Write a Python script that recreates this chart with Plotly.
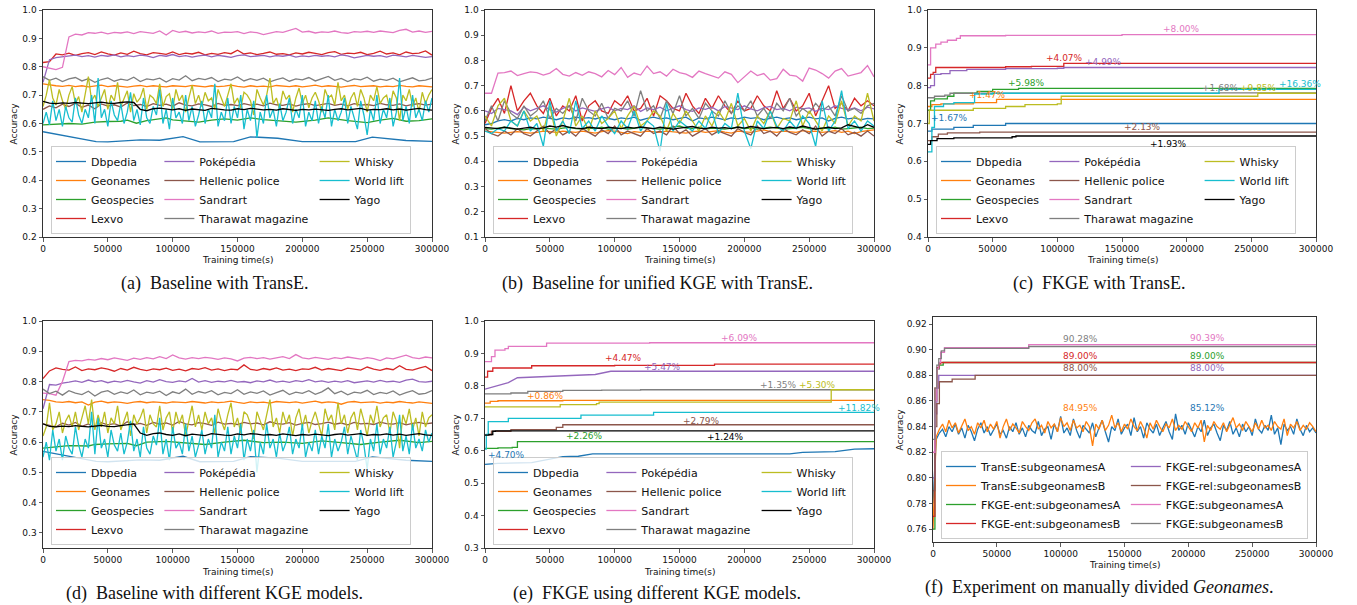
import numpy as np
import plotly.graph_objects as go

W, H = 1357, 605
SANS = "DejaVu Sans"
SERIF = "Liberation Serif"

DATASETS = ["Dbpedia", "Geonames", "Geospecies", "Lexvo", "Poképédia", "Hellenic police",
            "Sandrart", "Tharawat magazine", "Whisky", "World lift", "Yago"]
COLORS = ["#1f77b4", "#ff7f0e", "#2ca02c", "#d62728", "#9467bd", "#8c564b",
          "#e377c2", "#7f7f7f", "#bcbd22", "#17becf", "#000000"]
LEGEND_COLUMN = [1, 1, 1, 1, 2, 2, 2, 2, 3, 3, 3]
X_TICKS = [0, 50000, 100000, 150000, 200000, 250000, 300000]

# ---------------- (a) Baseline with TransE ----------------
A_DBPEDIA_X = [0, 41000, 50000, 75000, 90000, 108000, 121000, 147000, 160000, 181000, 200000, 241000, 254000, 280000, 300000]
A_DBPEDIA_Y = [0.571, 0.536, 0.535, 0.542, 0.541, 0.554, 0.535, 0.536, 0.553, 0.548, 0.536, 0.536, 0.552, 0.540, 0.537]
A_GEOSPECIES_X = [0, 10000, 20000, 30000, 40000, 50000, 60000, 65000, 72000, 80000, 95000, 100000, 120000, 130000, 140000, 150000, 160000, 170000, 185000, 195000, 210000, 220000, 235000, 250000, 260000, 270000, 280000, 290000, 300000]
A_GEOSPECIES_Y = [0.595, 0.597, 0.600, 0.598, 0.605, 0.607, 0.608, 0.612, 0.601, 0.610, 0.620, 0.613, 0.605, 0.612, 0.616, 0.612, 0.620, 0.614, 0.610, 0.605, 0.612, 0.620, 0.610, 0.603, 0.612, 0.618, 0.608, 0.610, 0.616]
A_GEONAMES = [0.740, 0.736, 0.733, 0.731, 0.734, 0.730, 0.733, 0.729, 0.732, 0.735, 0.730, 0.733, 0.731, 0.728, 0.732, 0.734, 0.730, 0.733, 0.731, 0.729, 0.733, 0.732, 0.730, 0.734, 0.731, 0.729, 0.733, 0.730, 0.732, 0.735, 0.731, 0.728, 0.733, 0.730, 0.732, 0.729, 0.734, 0.731, 0.730, 0.733, 0.729, 0.732, 0.735, 0.730, 0.733, 0.731, 0.728, 0.732, 0.734, 0.730, 0.731, 0.733, 0.729, 0.732, 0.730, 0.734, 0.731, 0.729, 0.733, 0.730, 0.729]
A_LEXVO = [0.815, 0.818, 0.845, 0.842, 0.848, 0.840, 0.846, 0.850, 0.843, 0.852, 0.845, 0.841, 0.849, 0.844, 0.855, 0.846, 0.842, 0.850, 0.847, 0.844, 0.852, 0.843, 0.848, 0.845, 0.851, 0.842, 0.847, 0.844, 0.850, 0.846, 0.858, 0.845, 0.849, 0.843, 0.847, 0.852, 0.844, 0.846, 0.842, 0.849, 0.845, 0.851, 0.847, 0.843, 0.850, 0.853, 0.844, 0.848, 0.846, 0.851, 0.843, 0.847, 0.855, 0.845, 0.849, 0.842, 0.852, 0.846, 0.848, 0.856, 0.841]
A_POKEPEDIA = [0.745, 0.825, 0.832, 0.835, 0.838, 0.841, 0.836, 0.839, 0.834, 0.840, 0.837, 0.842, 0.835, 0.839, 0.836, 0.841, 0.838, 0.832, 0.840, 0.837, 0.843, 0.836, 0.839, 0.834, 0.838, 0.841, 0.835, 0.840, 0.837, 0.833, 0.839, 0.842, 0.836, 0.838, 0.840, 0.835, 0.839, 0.837, 0.841, 0.834, 0.838, 0.836, 0.840, 0.837, 0.839, 0.835, 0.842, 0.838, 0.831, 0.836, 0.840, 0.837, 0.839, 0.834, 0.841, 0.838, 0.835, 0.840, 0.837, 0.833, 0.836]
A_HELLENIC = [0.650, 0.662, 0.655, 0.668, 0.660, 0.671, 0.657, 0.665, 0.652, 0.669, 0.661, 0.666, 0.658, 0.672, 0.663, 0.667, 0.660, 0.670, 0.664, 0.668, 0.661, 0.673, 0.665, 0.662, 0.669, 0.666, 0.660, 0.671, 0.664, 0.667, 0.663, 0.670, 0.665, 0.668, 0.662, 0.672, 0.666, 0.664, 0.669, 0.661, 0.667, 0.670, 0.663, 0.666, 0.671, 0.664, 0.668, 0.662, 0.670, 0.665, 0.667, 0.663, 0.671, 0.666, 0.664, 0.669, 0.662, 0.667, 0.670, 0.665, 0.668]
A_SANDRART = [0.800, 0.796, 0.790, 0.798, 0.905, 0.915, 0.912, 0.920, 0.918, 0.922, 0.916, 0.921, 0.919, 0.923, 0.917, 0.924, 0.920, 0.918, 0.926, 0.912, 0.928, 0.921, 0.925, 0.919, 0.923, 0.920, 0.926, 0.918, 0.922, 0.921, 0.924, 0.917, 0.923, 0.920, 0.913, 0.919, 0.924, 0.921, 0.927, 0.935, 0.922, 0.925, 0.919, 0.923, 0.921, 0.926, 0.920, 0.918, 0.924, 0.922, 0.925, 0.921, 0.926, 0.923, 0.920, 0.928, 0.932, 0.922, 0.926, 0.921, 0.925]
A_THARAWAT = [0.765, 0.752, 0.760, 0.748, 0.757, 0.762, 0.750, 0.758, 0.745, 0.755, 0.761, 0.749, 0.756, 0.752, 0.763, 0.748, 0.757, 0.754, 0.760, 0.746, 0.758, 0.753, 0.768, 0.751, 0.759, 0.755, 0.762, 0.748, 0.756, 0.753, 0.764, 0.750, 0.758, 0.752, 0.760, 0.747, 0.755, 0.761, 0.749, 0.757, 0.754, 0.762, 0.750, 0.758, 0.766, 0.752, 0.759, 0.748, 0.757, 0.754, 0.763, 0.749, 0.756, 0.752, 0.760, 0.747, 0.755, 0.761, 0.750, 0.753, 0.760]
A_WHISKY = [0.660, 0.700, 0.755, 0.690, 0.665, 0.720, 0.680, 0.650, 0.700, 0.730, 0.670, 0.695, 0.640, 0.710, 0.765, 0.680, 0.700, 0.660, 0.690, 0.720, 0.650, 0.700, 0.680, 0.745, 0.660, 0.690, 0.715, 0.640, 0.705, 0.675, 0.690, 0.725, 0.650, 0.700, 0.690, 0.670, 0.740, 0.660, 0.695, 0.705, 0.650, 0.720, 0.680, 0.700, 0.640, 0.690, 0.735, 0.670, 0.700, 0.660, 0.710, 0.680, 0.690, 0.650, 0.720, 0.690, 0.660, 0.700, 0.740, 0.670, 0.690, 0.655, 0.710, 0.700, 0.680, 0.630, 0.720, 0.690, 0.665, 0.700, 0.760, 0.670, 0.690, 0.650, 0.715, 0.685, 0.700, 0.640, 0.690, 0.725, 0.670, 0.700, 0.655, 0.690, 0.710, 0.680, 0.640, 0.720, 0.690, 0.700, 0.665, 0.745, 0.680, 0.700, 0.650, 0.690, 0.710, 0.660, 0.720, 0.690, 0.640, 0.700, 0.680, 0.730, 0.670, 0.690, 0.700, 0.650, 0.715, 0.690, 0.610, 0.700, 0.680, 0.720, 0.660, 0.690, 0.640, 0.710, 0.670, 0.700, 0.720]
A_WORLDLIFT = [0.600, 0.640, 0.595, 0.680, 0.610, 0.650, 0.590, 0.660, 0.620, 0.605, 0.690, 0.630, 0.600, 0.650, 0.620, 0.700, 0.600, 0.760, 0.620, 0.650, 0.590, 0.680, 0.630, 0.610, 0.670, 0.600, 0.640, 0.710, 0.610, 0.650, 0.595, 0.690, 0.620, 0.600, 0.660, 0.630, 0.720, 0.600, 0.650, 0.580, 0.690, 0.620, 0.640, 0.600, 0.700, 0.610, 0.660, 0.590, 0.630, 0.680, 0.600, 0.650, 0.620, 0.740, 0.590, 0.640, 0.610, 0.690, 0.600, 0.660, 0.620, 0.700, 0.580, 0.650, 0.610, 0.680, 0.550, 0.640, 0.600, 0.700, 0.620, 0.650, 0.590, 0.670, 0.610, 0.640, 0.690, 0.600, 0.650, 0.620, 0.700, 0.590, 0.640, 0.610, 0.680, 0.600, 0.660, 0.620, 0.700, 0.590, 0.650, 0.610, 0.640, 0.690, 0.600, 0.660, 0.620, 0.580, 0.680, 0.630, 0.560, 0.650, 0.610, 0.700, 0.600, 0.650, 0.620, 0.690, 0.590, 0.640, 0.760, 0.610, 0.660, 0.600, 0.700, 0.620, 0.650, 0.610, 0.680, 0.640, 0.690]
A_YAGO = [0.678, 0.672, 0.670, 0.673, 0.671, 0.674, 0.672, 0.670, 0.673, 0.675, 0.672, 0.671, 0.674, 0.676, 0.674, 0.650, 0.645, 0.652, 0.654, 0.650, 0.648, 0.652, 0.646, 0.651, 0.649, 0.646, 0.653, 0.650, 0.648, 0.647, 0.652, 0.649, 0.653, 0.651, 0.648, 0.650, 0.647, 0.652, 0.649, 0.646, 0.650, 0.648, 0.651, 0.649, 0.646, 0.650, 0.652, 0.648, 0.651, 0.653, 0.647, 0.650, 0.649, 0.652, 0.648, 0.651, 0.647, 0.650, 0.653, 0.649, 0.647]

# ---------------- (b) Baseline for unified KGE with TransE ----------------
B_DBPEDIA = [0.545, 0.550, 0.560, 0.565, 0.560, 0.570, 0.565, 0.572, 0.568, 0.575, 0.570, 0.565, 0.572, 0.568, 0.575, 0.570, 0.573, 0.568, 0.575, 0.570, 0.565, 0.572, 0.568, 0.575, 0.563, 0.570, 0.575, 0.568, 0.572, 0.565, 0.570, 0.575, 0.560, 0.572, 0.568, 0.575, 0.570, 0.565, 0.572, 0.568, 0.575, 0.570, 0.573, 0.565, 0.570, 0.575, 0.568, 0.572, 0.565, 0.570, 0.575, 0.568, 0.572, 0.560, 0.570, 0.575, 0.568, 0.572, 0.565, 0.570, 0.568]
B_GEONAMES = [0.520, 0.518, 0.515, 0.512, 0.515, 0.518, 0.515, 0.512, 0.515, 0.520, 0.518, 0.515, 0.520, 0.518, 0.515, 0.520, 0.516, 0.512, 0.518, 0.522, 0.520, 0.515, 0.510, 0.518, 0.515, 0.520, 0.518, 0.515, 0.520, 0.517, 0.515, 0.512, 0.518, 0.520, 0.515, 0.518, 0.522, 0.516, 0.512, 0.520, 0.518, 0.515, 0.520, 0.525, 0.518, 0.515, 0.520, 0.518, 0.515, 0.522, 0.518, 0.520, 0.515, 0.518, 0.522, 0.515, 0.520, 0.510, 0.518, 0.522, 0.525]
B_GEOSPECIES = [0.530, 0.528, 0.532, 0.535, 0.530, 0.528, 0.525, 0.530, 0.528, 0.532, 0.530, 0.528, 0.532, 0.535, 0.530, 0.528, 0.532, 0.530, 0.535, 0.528, 0.530, 0.532, 0.528, 0.530, 0.535, 0.532, 0.530, 0.528, 0.532, 0.535, 0.540, 0.532, 0.530, 0.535, 0.528, 0.532, 0.530, 0.528, 0.532, 0.535, 0.530, 0.532, 0.528, 0.530, 0.535, 0.532, 0.528, 0.530, 0.532, 0.535, 0.530, 0.528, 0.532, 0.530, 0.535, 0.528, 0.530, 0.532, 0.535, 0.530, 0.532]
B_LEXVO = [0.550, 0.610, 0.650, 0.590, 0.700, 0.600, 0.640, 0.670, 0.620, 0.590, 0.650, 0.580, 0.620, 0.600, 0.660, 0.560, 0.620, 0.640, 0.600, 0.590, 0.640, 0.620, 0.660, 0.600, 0.610, 0.650, 0.580, 0.660, 0.640, 0.610, 0.600, 0.670, 0.620, 0.590, 0.650, 0.610, 0.660, 0.620, 0.590, 0.640, 0.600, 0.610, 0.660, 0.620, 0.600, 0.680, 0.610, 0.650, 0.600, 0.620, 0.670, 0.580, 0.640, 0.700, 0.610, 0.630, 0.600, 0.650, 0.620, 0.640, 0.620]
B_POKEPEDIA = [0.600, 0.590, 0.610, 0.605, 0.600, 0.585, 0.615, 0.600, 0.610, 0.620, 0.605, 0.595, 0.610, 0.620, 0.600, 0.612, 0.605, 0.598, 0.608, 0.615, 0.600, 0.610, 0.605, 0.620, 0.598, 0.612, 0.605, 0.615, 0.600, 0.610, 0.620, 0.605, 0.598, 0.612, 0.606, 0.615, 0.600, 0.618, 0.610, 0.605, 0.620, 0.608, 0.600, 0.612, 0.618, 0.605, 0.610, 0.600, 0.615, 0.608, 0.612, 0.598, 0.610, 0.605, 0.620, 0.610, 0.605, 0.612, 0.600, 0.615, 0.608]
B_HELLENIC = [0.530, 0.510, 0.500, 0.520, 0.505, 0.530, 0.510, 0.500, 0.520, 0.540, 0.510, 0.530, 0.505, 0.520, 0.500, 0.530, 0.515, 0.500, 0.525, 0.510, 0.540, 0.505, 0.520, 0.510, 0.500, 0.530, 0.510, 0.520, 0.505, 0.540, 0.510, 0.525, 0.500, 0.515, 0.530, 0.505, 0.520, 0.510, 0.500, 0.530, 0.515, 0.505, 0.540, 0.510, 0.520, 0.500, 0.530, 0.515, 0.505, 0.525, 0.510, 0.540, 0.500, 0.520, 0.510, 0.530, 0.505, 0.515, 0.500, 0.520, 0.500]
B_SANDRART = [0.670, 0.670, 0.750, 0.752, 0.758, 0.740, 0.748, 0.755, 0.752, 0.742, 0.750, 0.768, 0.745, 0.738, 0.752, 0.741, 0.755, 0.748, 0.735, 0.760, 0.744, 0.772, 0.733, 0.750, 0.742, 0.778, 0.748, 0.755, 0.738, 0.765, 0.752, 0.746, 0.733, 0.758, 0.748, 0.740, 0.730, 0.755, 0.745, 0.712, 0.735, 0.758, 0.740, 0.748, 0.722, 0.728, 0.765, 0.742, 0.738, 0.718, 0.770, 0.762, 0.748, 0.730, 0.758, 0.768, 0.738, 0.745, 0.752, 0.780, 0.735]
B_THARAWAT = [0.560, 0.620, 0.560, 0.640, 0.590, 0.570, 0.620, 0.580, 0.600, 0.640, 0.570, 0.610, 0.590, 0.620, 0.560, 0.650, 0.600, 0.580, 0.630, 0.570, 0.610, 0.600, 0.640, 0.580, 0.680, 0.600, 0.620, 0.570, 0.640, 0.590, 0.660, 0.580, 0.610, 0.570, 0.630, 0.600, 0.580, 0.640, 0.590, 0.620, 0.600, 0.640, 0.580, 0.610, 0.570, 0.630, 0.600, 0.650, 0.580, 0.610, 0.590, 0.630, 0.600, 0.620, 0.580, 0.660, 0.600, 0.610, 0.590, 0.620, 0.630]
B_WHISKY = [0.580, 0.540, 0.620, 0.650, 0.560, 0.540, 0.600, 0.560, 0.580, 0.520, 0.620, 0.500, 0.560, 0.650, 0.540, 0.580, 0.520, 0.600, 0.550, 0.570, 0.600, 0.530, 0.580, 0.620, 0.540, 0.560, 0.600, 0.580, 0.520, 0.590, 0.550, 0.600, 0.560, 0.520, 0.580, 0.540, 0.600, 0.560, 0.630, 0.540, 0.570, 0.520, 0.580, 0.550, 0.600, 0.530, 0.570, 0.560, 0.640, 0.540, 0.600, 0.560, 0.520, 0.580, 0.550, 0.640, 0.540, 0.580, 0.560, 0.670, 0.560]
B_WORLDLIFT = [0.520, 0.510, 0.530, 0.520, 0.560, 0.540, 0.600, 0.520, 0.550, 0.460, 0.640, 0.520, 0.560, 0.510, 0.640, 0.530, 0.560, 0.520, 0.580, 0.540, 0.510, 0.560, 0.530, 0.600, 0.520, 0.560, 0.540, 0.440, 0.630, 0.520, 0.560, 0.540, 0.520, 0.560, 0.530, 0.600, 0.510, 0.550, 0.530, 0.670, 0.520, 0.450, 0.560, 0.530, 0.600, 0.540, 0.520, 0.560, 0.530, 0.580, 0.550, 0.460, 0.640, 0.520, 0.560, 0.680, 0.530, 0.560, 0.520, 0.560, 0.540]
B_YAGO = [0.535, 0.532, 0.530, 0.535, 0.530, 0.528, 0.532, 0.535, 0.530, 0.533, 0.540, 0.536, 0.542, 0.535, 0.532, 0.530, 0.535, 0.532, 0.530, 0.535, 0.533, 0.530, 0.535, 0.532, 0.536, 0.533, 0.530, 0.535, 0.532, 0.528, 0.532, 0.535, 0.538, 0.532, 0.530, 0.535, 0.532, 0.534, 0.530, 0.536, 0.532, 0.538, 0.535, 0.530, 0.533, 0.535, 0.530, 0.536, 0.532, 0.540, 0.534, 0.528, 0.532, 0.535, 0.530, 0.533, 0.545, 0.540, 0.532, 0.545, 0.535]

# ---------------- (c) FKGE with TransE (step curves) ----------------
C_DBPEDIA_X = [0, 3000, 20000, 35000, 60000, 300000]
C_DBPEDIA_Y = [0.680, 0.685, 0.690, 0.695, 0.700, 0.700]
C_GEONAMES_X = [0, 3000, 10000, 35000, 53000, 300000]
C_GEONAMES_Y = [0.745, 0.750, 0.752, 0.755, 0.764, 0.764]
C_GEOSPECIES_X = [0, 2000, 5000, 15000, 20000, 38000, 50000, 70000, 300000]
C_GEOSPECIES_Y = [0.735, 0.760, 0.765, 0.772, 0.780, 0.785, 0.790, 0.793, 0.793]
C_LEXVO_X = [0, 2000, 4000, 6000, 60000, 80000, 105000, 300000]
C_LEXVO_Y = [0.820, 0.830, 0.835, 0.848, 0.850, 0.851, 0.859, 0.860]
C_POKEPEDIA_X = [0, 2000, 5000, 10000, 17000, 30000, 60000, 100000, 105000, 300000]
C_POKEPEDIA_Y = [0.795, 0.800, 0.830, 0.832, 0.840, 0.843, 0.845, 0.846, 0.848, 0.848]
C_HELLENIC_X = [0, 3000, 8000, 15000, 40000, 300000]
C_HELLENIC_Y = [0.655, 0.665, 0.672, 0.675, 0.677, 0.678]
C_SANDRART_X = [0, 2000, 6000, 10000, 15000, 22000, 25000, 60000, 150000, 300000]
C_SANDRART_Y = [0.855, 0.900, 0.910, 0.915, 0.920, 0.925, 0.932, 0.933, 0.935, 0.935]
C_THARAWAT_X = [0, 5000, 13000, 17000, 225000, 300000]
C_THARAWAT_Y = [0.768, 0.772, 0.775, 0.780, 0.781, 0.781]
C_WHISKY_X = [0, 1000, 35000, 60000, 75000, 100000, 103000, 255000, 300000]
C_WHISKY_Y = [0.700, 0.735, 0.740, 0.745, 0.750, 0.752, 0.772, 0.780, 0.780]
C_WORLDLIFT_X = [0, 3000, 5000, 12000, 20000, 36000, 50000, 225000, 300000]
C_WORLDLIFT_Y = [0.625, 0.690, 0.745, 0.752, 0.755, 0.778, 0.780, 0.790, 0.790]
C_YAGO_X = [0, 2000, 7000, 20000, 65000, 68000, 300000]
C_YAGO_Y = [0.645, 0.655, 0.660, 0.662, 0.665, 0.667, 0.668]
C_LABELS = ["+1.67%", "+1.47%", "+5.98%", "+4.07%", "+4.99%", "+2.13%", "+8.00%", "+1.68%", "+9.85%", "+16.36%", "+1.93%"]
C_LABEL_X = [1000, 30000, 60000, 90000, 120000, 150000, 180000, 210000, 240000, 270000, 170000]
C_LABEL_Y = [0.7145, 0.7753, 0.8062, 0.8723, 0.8617, 0.6916, 0.9490, 0.7946, 0.7946, 0.8044, 0.6458]

# ---------------- (d) Baseline with different KGE models ----------------
D_DBPEDIA_X = [0, 41000, 50000, 75000, 90000, 108000, 121000, 147000, 160000, 181000, 200000, 241000, 254000, 280000, 300000]
D_DBPEDIA_Y = [0.569, 0.536, 0.535, 0.541, 0.540, 0.553, 0.535, 0.536, 0.552, 0.547, 0.536, 0.536, 0.551, 0.540, 0.536]
D_GEOSPECIES_X = [0, 10000, 20000, 35000, 40000, 50000, 65000, 72000, 80000, 95000, 110000, 125000, 140000, 155000, 170000, 185000, 200000, 215000, 230000, 245000, 260000, 275000, 290000, 300000]
D_GEOSPECIES_Y = [0.580, 0.583, 0.588, 0.587, 0.592, 0.594, 0.596, 0.588, 0.600, 0.602, 0.598, 0.592, 0.600, 0.606, 0.598, 0.600, 0.596, 0.604, 0.598, 0.592, 0.600, 0.606, 0.598, 0.602]
D_GEONAMES = [0.740, 0.738, 0.733, 0.731, 0.734, 0.730, 0.733, 0.722, 0.732, 0.735, 0.730, 0.733, 0.731, 0.728, 0.732, 0.734, 0.730, 0.733, 0.731, 0.729, 0.733, 0.732, 0.730, 0.734, 0.731, 0.729, 0.733, 0.730, 0.732, 0.735, 0.731, 0.728, 0.733, 0.730, 0.732, 0.729, 0.734, 0.731, 0.730, 0.733, 0.729, 0.732, 0.735, 0.730, 0.733, 0.731, 0.725, 0.732, 0.734, 0.730, 0.731, 0.733, 0.729, 0.732, 0.730, 0.734, 0.731, 0.729, 0.733, 0.730, 0.728]
D_LEXVO = [0.810, 0.835, 0.845, 0.840, 0.838, 0.848, 0.836, 0.842, 0.839, 0.845, 0.841, 0.834, 0.843, 0.838, 0.847, 0.840, 0.836, 0.842, 0.839, 0.844, 0.837, 0.841, 0.835, 0.843, 0.840, 0.846, 0.838, 0.842, 0.836, 0.841, 0.839, 0.855, 0.840, 0.837, 0.843, 0.839, 0.845, 0.838, 0.841, 0.836, 0.842, 0.840, 0.847, 0.838, 0.843, 0.839, 0.836, 0.844, 0.840, 0.838, 0.848, 0.841, 0.837, 0.843, 0.839, 0.852, 0.840, 0.838, 0.844, 0.850, 0.836]
D_POKEPEDIA = [0.710, 0.790, 0.788, 0.795, 0.798, 0.802, 0.797, 0.805, 0.799, 0.803, 0.796, 0.801, 0.798, 0.804, 0.799, 0.795, 0.803, 0.798, 0.806, 0.800, 0.797, 0.802, 0.799, 0.810, 0.798, 0.803, 0.797, 0.801, 0.799, 0.804, 0.798, 0.800, 0.796, 0.802, 0.799, 0.805, 0.798, 0.801, 0.797, 0.803, 0.800, 0.806, 0.799, 0.802, 0.797, 0.801, 0.798, 0.803, 0.796, 0.800, 0.802, 0.798, 0.804, 0.799, 0.801, 0.797, 0.805, 0.808, 0.800, 0.798, 0.801]
D_HELLENIC = [0.660, 0.655, 0.650, 0.662, 0.656, 0.665, 0.652, 0.660, 0.648, 0.664, 0.657, 0.661, 0.653, 0.667, 0.658, 0.662, 0.655, 0.665, 0.659, 0.663, 0.656, 0.668, 0.660, 0.657, 0.664, 0.661, 0.655, 0.666, 0.659, 0.662, 0.658, 0.665, 0.660, 0.663, 0.657, 0.667, 0.661, 0.659, 0.664, 0.656, 0.662, 0.665, 0.658, 0.661, 0.666, 0.659, 0.663, 0.657, 0.665, 0.660, 0.662, 0.658, 0.666, 0.661, 0.659, 0.664, 0.657, 0.662, 0.665, 0.660, 0.663]
D_SANDRART = [0.762, 0.760, 0.755, 0.800, 0.866, 0.870, 0.868, 0.873, 0.871, 0.876, 0.872, 0.878, 0.874, 0.870, 0.877, 0.873, 0.879, 0.875, 0.882, 0.876, 0.888, 0.878, 0.874, 0.879, 0.876, 0.880, 0.877, 0.873, 0.878, 0.875, 0.868, 0.877, 0.880, 0.876, 0.879, 0.874, 0.878, 0.882, 0.876, 0.889, 0.878, 0.875, 0.880, 0.877, 0.873, 0.879, 0.876, 0.881, 0.877, 0.874, 0.879, 0.876, 0.869, 0.878, 0.875, 0.880, 0.887, 0.879, 0.876, 0.881, 0.878]
D_THARAWAT = [0.775, 0.760, 0.768, 0.755, 0.770, 0.762, 0.757, 0.768, 0.752, 0.765, 0.770, 0.758, 0.766, 0.760, 0.772, 0.756, 0.765, 0.761, 0.768, 0.754, 0.766, 0.760, 0.775, 0.758, 0.767, 0.762, 0.770, 0.756, 0.764, 0.760, 0.773, 0.758, 0.766, 0.761, 0.769, 0.755, 0.763, 0.771, 0.757, 0.765, 0.761, 0.770, 0.758, 0.766, 0.779, 0.760, 0.768, 0.756, 0.765, 0.762, 0.771, 0.757, 0.764, 0.760, 0.769, 0.755, 0.763, 0.770, 0.758, 0.761, 0.770]
D_WHISKY = [0.620, 0.650, 0.730, 0.640, 0.660, 0.700, 0.630, 0.670, 0.690, 0.650, 0.700, 0.640, 0.680, 0.720, 0.660, 0.740, 0.640, 0.690, 0.650, 0.700, 0.630, 0.680, 0.660, 0.720, 0.640, 0.670, 0.700, 0.620, 0.690, 0.660, 0.680, 0.710, 0.630, 0.690, 0.660, 0.650, 0.720, 0.640, 0.680, 0.700, 0.630, 0.700, 0.660, 0.690, 0.620, 0.670, 0.720, 0.650, 0.690, 0.640, 0.700, 0.660, 0.680, 0.630, 0.710, 0.670, 0.640, 0.690, 0.730, 0.650, 0.680, 0.630, 0.700, 0.690, 0.660, 0.610, 0.700, 0.670, 0.640, 0.690, 0.740, 0.650, 0.680, 0.630, 0.700, 0.660, 0.690, 0.620, 0.680, 0.710, 0.650, 0.690, 0.630, 0.670, 0.700, 0.660, 0.620, 0.710, 0.670, 0.690, 0.640, 0.730, 0.660, 0.690, 0.630, 0.680, 0.700, 0.640, 0.710, 0.670, 0.620, 0.690, 0.660, 0.720, 0.650, 0.680, 0.690, 0.630, 0.700, 0.670, 0.580, 0.690, 0.660, 0.710, 0.640, 0.680, 0.620, 0.700, 0.650, 0.680, 0.690]
D_WORLDLIFT = [0.550, 0.600, 0.540, 0.640, 0.570, 0.610, 0.540, 0.620, 0.580, 0.560, 0.650, 0.590, 0.550, 0.610, 0.580, 0.700, 0.560, 0.680, 0.580, 0.610, 0.550, 0.640, 0.590, 0.570, 0.630, 0.560, 0.600, 0.670, 0.570, 0.610, 0.550, 0.650, 0.580, 0.560, 0.620, 0.590, 0.680, 0.560, 0.610, 0.540, 0.650, 0.580, 0.600, 0.560, 0.660, 0.570, 0.620, 0.550, 0.590, 0.640, 0.560, 0.610, 0.580, 0.690, 0.550, 0.600, 0.570, 0.650, 0.560, 0.620, 0.580, 0.660, 0.540, 0.610, 0.570, 0.640, 0.500, 0.600, 0.560, 0.660, 0.580, 0.610, 0.550, 0.630, 0.570, 0.600, 0.650, 0.560, 0.610, 0.580, 0.660, 0.550, 0.600, 0.570, 0.640, 0.560, 0.620, 0.580, 0.660, 0.550, 0.610, 0.570, 0.600, 0.650, 0.560, 0.620, 0.580, 0.540, 0.640, 0.590, 0.510, 0.610, 0.570, 0.660, 0.560, 0.610, 0.580, 0.650, 0.550, 0.600, 0.690, 0.570, 0.620, 0.560, 0.660, 0.580, 0.610, 0.570, 0.640, 0.600, 0.630]
D_YAGO = [0.660, 0.652, 0.650, 0.653, 0.651, 0.654, 0.652, 0.650, 0.653, 0.655, 0.652, 0.651, 0.654, 0.656, 0.660, 0.630, 0.622, 0.628, 0.630, 0.625, 0.622, 0.627, 0.621, 0.626, 0.624, 0.621, 0.628, 0.625, 0.623, 0.622, 0.627, 0.624, 0.628, 0.626, 0.623, 0.625, 0.622, 0.627, 0.624, 0.621, 0.625, 0.623, 0.626, 0.624, 0.621, 0.625, 0.627, 0.623, 0.626, 0.628, 0.622, 0.625, 0.624, 0.627, 0.623, 0.626, 0.622, 0.625, 0.628, 0.624, 0.622]

# ---------------- (e) FKGE using different KGE models ----------------
E_DBPEDIA_X = [0, 10000, 36000, 50000, 60000, 72000, 83000, 235000, 245000, 270000, 285000, 300000]
E_DBPEDIA_Y = [0.558, 0.561, 0.563, 0.575, 0.582, 0.583, 0.590, 0.590, 0.595, 0.597, 0.605, 0.606]
E_GEONAMES_X = [0, 4000, 10000, 60000, 300000]
E_GEONAMES_Y = [0.747, 0.752, 0.754, 0.755, 0.756]
E_GEOSPECIES_X = [0, 10000, 21000, 25000, 300000]
E_GEOSPECIES_Y = [0.607, 0.609, 0.610, 0.628, 0.628]
E_LEXVO_X = [0, 2000, 6000, 36000, 100000, 177000, 300000]
E_LEXVO_Y = [0.827, 0.845, 0.855, 0.862, 0.863, 0.867, 0.867]
E_POKEPEDIA_X = [0, 10000, 18000, 25000, 50000, 85000, 97000, 300000]
E_POKEPEDIA_Y = [0.790, 0.800, 0.810, 0.825, 0.830, 0.835, 0.845, 0.845]
E_HELLENIC_X = [0, 5000, 20000, 50000, 55000, 60000, 300000]
E_HELLENIC_Y = [0.649, 0.660, 0.665, 0.665, 0.672, 0.680, 0.680]
E_SANDRART_X = [0, 5000, 7700, 15400, 18000, 47500, 127000, 300000]
E_SANDRART_Y = [0.875, 0.890, 0.910, 0.915, 0.922, 0.932, 0.933, 0.934]
E_THARAWAT_X = [0, 20000, 33000, 60000, 90000, 120000, 300000]
E_THARAWAT_Y = [0.775, 0.778, 0.783, 0.786, 0.787, 0.788, 0.789]
E_WHISKY_X = [0, 58000, 86000, 88000, 267000, 300000]
E_WHISKY_Y = [0.735, 0.742, 0.745, 0.750, 0.788, 0.788]
E_WORLDLIFT_X = [0, 1000, 2500, 18000, 74000, 130000, 300000]
E_WORLDLIFT_Y = [0.605, 0.650, 0.690, 0.700, 0.710, 0.718, 0.720]
E_YAGO_X = [0, 3000, 6000, 8000, 300000]
E_YAGO_Y = [0.648, 0.650, 0.660, 0.661, 0.661]
E_LABELS = ["+4.70%", "+0.86%", "+2.26%", "+4.47%", "+5.47%", "+2.79%", "+6.09%", "+1.35%", "+5.30%", "+11.82%", "+1.24%"]
E_LABEL_X = [800, 30800, 60900, 90700, 120800, 150900, 180700, 210800, 240400, 270400, 169700]
E_LABEL_Y = [0.586, 0.769, 0.644, 0.885, 0.859, 0.693, 0.9487, 0.802, 0.802, 0.733, 0.641]

# ---------------- (f) Experiment on manually divided Geonames ----------------
F_NAMES = ["TransE:subgeonamesA", "TransE:subgeonamesB", "FKGE-ent:subgeonamesA", "FKGE-ent:subgeonamesB",
           "FKGE-rel:subgeonamesA", "FKGE-rel:subgeonamesB", "FKGE:subgeonamesA", "FKGE:subgeonamesB"]
F_LEGEND_COLUMN = [1, 1, 1, 1, 2, 2, 2, 2]
F_TRANSE_A = [0.780, 0.830, 0.835, 0.838, 0.832, 0.840, 0.836, 0.842, 0.834, 0.839, 0.831, 0.841, 0.836, 0.829, 0.838, 0.843, 0.835, 0.840, 0.833, 0.838, 0.842, 0.834, 0.837, 0.831, 0.840, 0.836, 0.843, 0.834, 0.839, 0.832, 0.841, 0.837, 0.835, 0.844, 0.833, 0.838, 0.840, 0.830, 0.842, 0.836, 0.848, 0.835, 0.839, 0.833, 0.846, 0.837, 0.831, 0.841, 0.838, 0.835, 0.843, 0.832, 0.839, 0.845, 0.836, 0.828, 0.840, 0.837, 0.846, 0.834, 0.839, 0.842, 0.833, 0.847, 0.836, 0.840, 0.831, 0.843, 0.838, 0.835, 0.842, 0.833, 0.839, 0.844, 0.836, 0.830, 0.850, 0.837, 0.841, 0.834, 0.843, 0.838, 0.832, 0.840, 0.836, 0.845, 0.833, 0.839, 0.842, 0.835, 0.829, 0.841, 0.837, 0.844, 0.834, 0.839, 0.832, 0.842, 0.836, 0.840, 0.833, 0.846, 0.838, 0.835, 0.841, 0.837, 0.849, 0.834, 0.839, 0.826, 0.842, 0.837, 0.840, 0.834, 0.846, 0.838, 0.833, 0.841, 0.836, 0.839, 0.835]
F_TRANSE_B = [0.760, 0.832, 0.838, 0.842, 0.836, 0.845, 0.839, 0.843, 0.835, 0.841, 0.846, 0.837, 0.840, 0.834, 0.843, 0.839, 0.845, 0.836, 0.842, 0.838, 0.844, 0.831, 0.840, 0.846, 0.837, 0.842, 0.839, 0.835, 0.844, 0.840, 0.837, 0.843, 0.846, 0.838, 0.841, 0.835, 0.844, 0.839, 0.842, 0.836, 0.847, 0.840, 0.843, 0.837, 0.845, 0.839, 0.841, 0.836, 0.844, 0.840, 0.825, 0.842, 0.838, 0.845, 0.837, 0.841, 0.849, 0.839, 0.843, 0.836, 0.842, 0.838, 0.846, 0.840, 0.837, 0.844, 0.839, 0.831, 0.843, 0.838, 0.845, 0.840, 0.836, 0.842, 0.839, 0.846, 0.837, 0.841, 0.838, 0.844, 0.840, 0.836, 0.843, 0.839, 0.845, 0.828, 0.841, 0.837, 0.844, 0.840, 0.838, 0.843, 0.836, 0.841, 0.847, 0.839, 0.842, 0.837, 0.844, 0.840, 0.836, 0.843, 0.838, 0.845, 0.839, 0.841, 0.837, 0.844, 0.840, 0.838, 0.846, 0.833, 0.842, 0.839, 0.844, 0.837, 0.841, 0.838, 0.843, 0.840, 0.836]
F_ENT_A_X = [0, 1500, 3000, 5000, 8000, 300000]
F_ENT_A_Y = [0.760, 0.860, 0.885, 0.888, 0.890, 0.890]
F_ENT_B_X = [0, 1500, 3000, 4500, 6000, 300000]
F_ENT_B_Y = [0.770, 0.870, 0.886, 0.889, 0.890, 0.890]
F_REL_A_X = [0, 1500, 3000, 4500, 300000]
F_REL_A_Y = [0.800, 0.850, 0.870, 0.880, 0.880]
F_REL_B_X = [0, 1500, 3000, 5000, 15000, 33000, 300000]
F_REL_B_Y = [0.790, 0.840, 0.858, 0.875, 0.877, 0.880, 0.880]
F_FKGE_A_X = [0, 1500, 3000, 4500, 6000, 9000, 75000, 300000]
F_FKGE_A_Y = [0.820, 0.860, 0.885, 0.890, 0.898, 0.9015, 0.904, 0.904]
F_FKGE_B_X = [0, 1500, 3000, 4500, 6500, 9000, 75000, 300000]
F_FKGE_B_Y = [0.830, 0.870, 0.888, 0.893, 0.899, 0.901, 0.9025, 0.9025]
F_LABELS = ["90.28%", "90.39%", "89.00%", "89.00%", "88.00%", "88.00%", "84.95%", "85.12%"]
F_LABEL_COLOR = [7, 6, 3, 2, 5, 4, 1, 0]
F_LABEL_X = [100000, 200000, 100000, 200000, 100000, 200000, 100000, 200000]
F_LABEL_Y = [0.9083, 0.9093, 0.8952, 0.8952, 0.8854, 0.8854, 0.8546, 0.8546]


def grid(vals):
    return list(np.linspace(0, 300000, len(vals)))


PANEL_A = [(A_DBPEDIA_X, A_DBPEDIA_Y, "linear"), (grid(A_GEONAMES), A_GEONAMES, "linear"),
           (A_GEOSPECIES_X, A_GEOSPECIES_Y, "linear"), (grid(A_LEXVO), A_LEXVO, "linear"),
           (grid(A_POKEPEDIA), A_POKEPEDIA, "linear"), (grid(A_HELLENIC), A_HELLENIC, "linear"),
           (grid(A_SANDRART), A_SANDRART, "linear"), (grid(A_THARAWAT), A_THARAWAT, "linear"),
           (grid(A_WHISKY), A_WHISKY, "linear"), (grid(A_WORLDLIFT), A_WORLDLIFT, "linear"),
           (grid(A_YAGO), A_YAGO, "linear")]
PANEL_B = [(grid(v), v, "linear") for v in [B_DBPEDIA, B_GEONAMES, B_GEOSPECIES, B_LEXVO, B_POKEPEDIA,
                                             B_HELLENIC, B_SANDRART, B_THARAWAT, B_WHISKY, B_WORLDLIFT, B_YAGO]]
PANEL_C = [(C_DBPEDIA_X, C_DBPEDIA_Y, "hv"), (C_GEONAMES_X, C_GEONAMES_Y, "hv"),
           (C_GEOSPECIES_X, C_GEOSPECIES_Y, "hv"), (C_LEXVO_X, C_LEXVO_Y, "hv"),
           (C_POKEPEDIA_X, C_POKEPEDIA_Y, "hv"), (C_HELLENIC_X, C_HELLENIC_Y, "hv"),
           (C_SANDRART_X, C_SANDRART_Y, "hv"), (C_THARAWAT_X, C_THARAWAT_Y, "hv"),
           (C_WHISKY_X, C_WHISKY_Y, "hv"), (C_WORLDLIFT_X, C_WORLDLIFT_Y, "hv"),
           (C_YAGO_X, C_YAGO_Y, "hv")]
PANEL_D = [(D_DBPEDIA_X, D_DBPEDIA_Y, "linear"), (grid(D_GEONAMES), D_GEONAMES, "linear"),
           (D_GEOSPECIES_X, D_GEOSPECIES_Y, "linear"), (grid(D_LEXVO), D_LEXVO, "linear"),
           (grid(D_POKEPEDIA), D_POKEPEDIA, "linear"), (grid(D_HELLENIC), D_HELLENIC, "linear"),
           (grid(D_SANDRART), D_SANDRART, "linear"), (grid(D_THARAWAT), D_THARAWAT, "linear"),
           (grid(D_WHISKY), D_WHISKY, "linear"), (grid(D_WORLDLIFT), D_WORLDLIFT, "linear"),
           (grid(D_YAGO), D_YAGO, "linear")]
PANEL_E = [(E_DBPEDIA_X, E_DBPEDIA_Y, "linear"), (E_GEONAMES_X, E_GEONAMES_Y, "hv"),
           (E_GEOSPECIES_X, E_GEOSPECIES_Y, "hv"), (E_LEXVO_X, E_LEXVO_Y, "hv"),
           (E_POKEPEDIA_X, E_POKEPEDIA_Y, "linear"), (E_HELLENIC_X, E_HELLENIC_Y, "hv"),
           (E_SANDRART_X, E_SANDRART_Y, "hv"), (E_THARAWAT_X, E_THARAWAT_Y, "hv"),
           (E_WHISKY_X, E_WHISKY_Y, "hv"), (E_WORLDLIFT_X, E_WORLDLIFT_Y, "hv"),
           (E_YAGO_X, E_YAGO_Y, "hv")]
PANEL_F = [(grid(F_TRANSE_A), F_TRANSE_A, "linear"), (grid(F_TRANSE_B), F_TRANSE_B, "linear"),
           (F_ENT_A_X, F_ENT_A_Y, "hv"), (F_ENT_B_X, F_ENT_B_Y, "hv"),
           (F_REL_A_X, F_REL_A_Y, "hv"), (F_REL_B_X, F_REL_B_Y, "hv"),
           (F_FKGE_A_X, F_FKGE_A_Y, "hv"), (F_FKGE_B_X, F_FKGE_B_Y, "hv")]

# layout of the six panels in pixels: (left, right, top, bottom), y range, y ticks
PANEL_BOX = [(43, 432, 10, 237), (485, 874, 10, 237), (928, 1316, 10, 237),
             (43, 432, 321, 548), (485, 874, 321, 548), (933, 1316, 317, 542)]
Y_RANGES = [[0.2, 1.0], [0.1, 1.0], [0.4, 1.0], [0.25, 1.0], [0.3, 1.0], [0.75, 0.9255]]
Y_TICKS = [[0.2, 0.3, 0.4, 0.5, 0.6, 0.7, 0.8, 0.9, 1.0],
           [0.1, 0.2, 0.3, 0.4, 0.5, 0.6, 0.7, 0.8, 0.9, 1.0],
           [0.4, 0.5, 0.6, 0.7, 0.8, 0.9, 1.0],
           [0.3, 0.4, 0.5, 0.6, 0.7, 0.8, 0.9, 1.0],
           [0.3, 0.4, 0.5, 0.6, 0.7, 0.8, 0.9, 1.0],
           [0.76, 0.78, 0.80, 0.82, 0.84, 0.86, 0.88, 0.90, 0.92]]
Y_FMT = ["{:.1f}"] * 5 + ["{:.2f}"]
CAPTIONS = ["(a)\u2002Baseline with TransE.", "(b)\u2002Baseline for unified KGE with TransE.",
            "(c)\u2002FKGE with TransE.", "(d)\u2002Baseline with different KGE models.",
            "(e)\u2002FKGE using different KGE models.",
            "(f)\u2002Experiment on manually divided <i>Geonames</i>."]
CAPTION_X = [214, 657, 1099, 214, 657, 1099]
CAPTION_Y = [283, 283, 283, 593, 593, 587]
XTITLE_Y = [260, 260, 260, 572, 572, 565]
YTITLE_X = [13, 455, 899, 13, 455, 899]
LEGEND_POS = [(51, 234), (493, 234), (936, 234), (51, 545), (493, 545), (941, 539)]


def px_x(p):
    return p / W


def px_y(p):
    return 1 - p / H


fig = go.Figure()

PANELS = [PANEL_A, PANEL_B, PANEL_C, PANEL_D, PANEL_E, PANEL_F]
for i, panel in enumerate(PANELS):
    sfx = "" if i == 0 else str(i + 1)
    if i < 5:
        names, colors, cols = DATASETS, COLORS, LEGEND_COLUMN
    else:
        names, colors, cols = F_NAMES, COLORS[:8], F_LEGEND_COLUMN
    for name, color, col, (xs, ys, shape) in zip(names, colors, cols, panel):
        fig.add_trace(go.Scatter(
            x=xs, y=ys, mode="lines", name=name,
            line=dict(color=color, width=1.3, shape=shape),
            xaxis="x" + sfx, yaxis="y" + sfx, legend="legend" + sfx,
            legendgroup="p%dc%d" % (i, col), hoverinfo="skip"))

layout = dict(width=W, height=H, margin=dict(l=0, r=0, t=0, b=0, pad=0, autoexpand=False),
              paper_bgcolor="white", plot_bgcolor="white", showlegend=True,
              font=dict(family=SANS, size=9, color="#111"))
annotations = []
axis_common = dict(showline=True, linecolor="#333", linewidth=1, mirror=True, ticks="outside",
                   ticklen=3.5, tickwidth=0.8, tickcolor="#333", showgrid=False, zeroline=False,
                   tickfont=dict(family=SANS, size=9, color="#111"), fixedrange=True,
                   automargin=False)

for i in range(6):
    sfx = "" if i == 0 else str(i + 1)
    l, r, t, b = PANEL_BOX[i]
    layout["xaxis" + sfx] = dict(axis_common, domain=[px_x(l), px_x(r)], range=[0, 300000],
                                 anchor="y" + sfx, tickvals=X_TICKS,
                                 ticktext=[str(v) for v in X_TICKS])
    layout["yaxis" + sfx] = dict(axis_common, domain=[px_y(b), px_y(t)], range=Y_RANGES[i],
                                 anchor="x" + sfx, tickvals=Y_TICKS[i],
                                 ticktext=[Y_FMT[i].format(v) for v in Y_TICKS[i]])
    lx, lb = LEGEND_POS[i]
    layout["legend" + sfx] = dict(x=px_x(lx), y=px_y(lb), xanchor="left", yanchor="bottom",
                                  orientation="h", traceorder="grouped",
                                  bgcolor="rgba(255,255,255,0.8)", bordercolor="#cccccc",
                                  borderwidth=1, itemwidth=30, tracegroupgap=0,
                                  font=dict(family=SANS, size=11, color="#111"))
    annotations.append(dict(xref="paper", yref="paper", x=px_x((l + r) / 2), y=px_y(XTITLE_Y[i]),
                            text="Training time(s)", showarrow=False, xanchor="center",
                            yanchor="middle", font=dict(family=SANS, size=9, color="#111")))
    annotations.append(dict(xref="paper", yref="paper", x=px_x(YTITLE_X[i]), y=px_y((t + b) / 2),
                            text="Accuracy", showarrow=False, textangle=-90, xanchor="center",
                            yanchor="middle", font=dict(family=SANS, size=9, color="#111")))
    annotations.append(dict(xref="paper", yref="paper", x=px_x(CAPTION_X[i]), y=px_y(CAPTION_Y[i]),
                            text=CAPTIONS[i], showarrow=False, xanchor="center", yanchor="middle",
                            font=dict(family=SERIF, size=18, color="#111")))

for sfx, labels, lxs, lys, cidx in [("3", C_LABELS, C_LABEL_X, C_LABEL_Y, list(range(11))),
                                     ("5", E_LABELS, E_LABEL_X, E_LABEL_Y, list(range(11))),
                                     ("6", F_LABELS, F_LABEL_X, F_LABEL_Y, F_LABEL_COLOR)]:
    for txt, ax, ay, ci in zip(labels, lxs, lys, cidx):
        annotations.append(dict(xref="x" + sfx, yref="y" + sfx, x=ax, y=ay, text=txt,
                                showarrow=False, xanchor="left", yanchor="middle",
                                font=dict(family=SANS, size=9, color=COLORS[ci])))

layout["annotations"] = annotations
fig.update_layout(**layout)
fig.write_html("out.html", config={"displayModeBar": False, "staticPlot": True},
               post_script="document.body.style.margin='0';document.body.style.padding='0';"
                           "document.documentElement.style.overflow='hidden';")
